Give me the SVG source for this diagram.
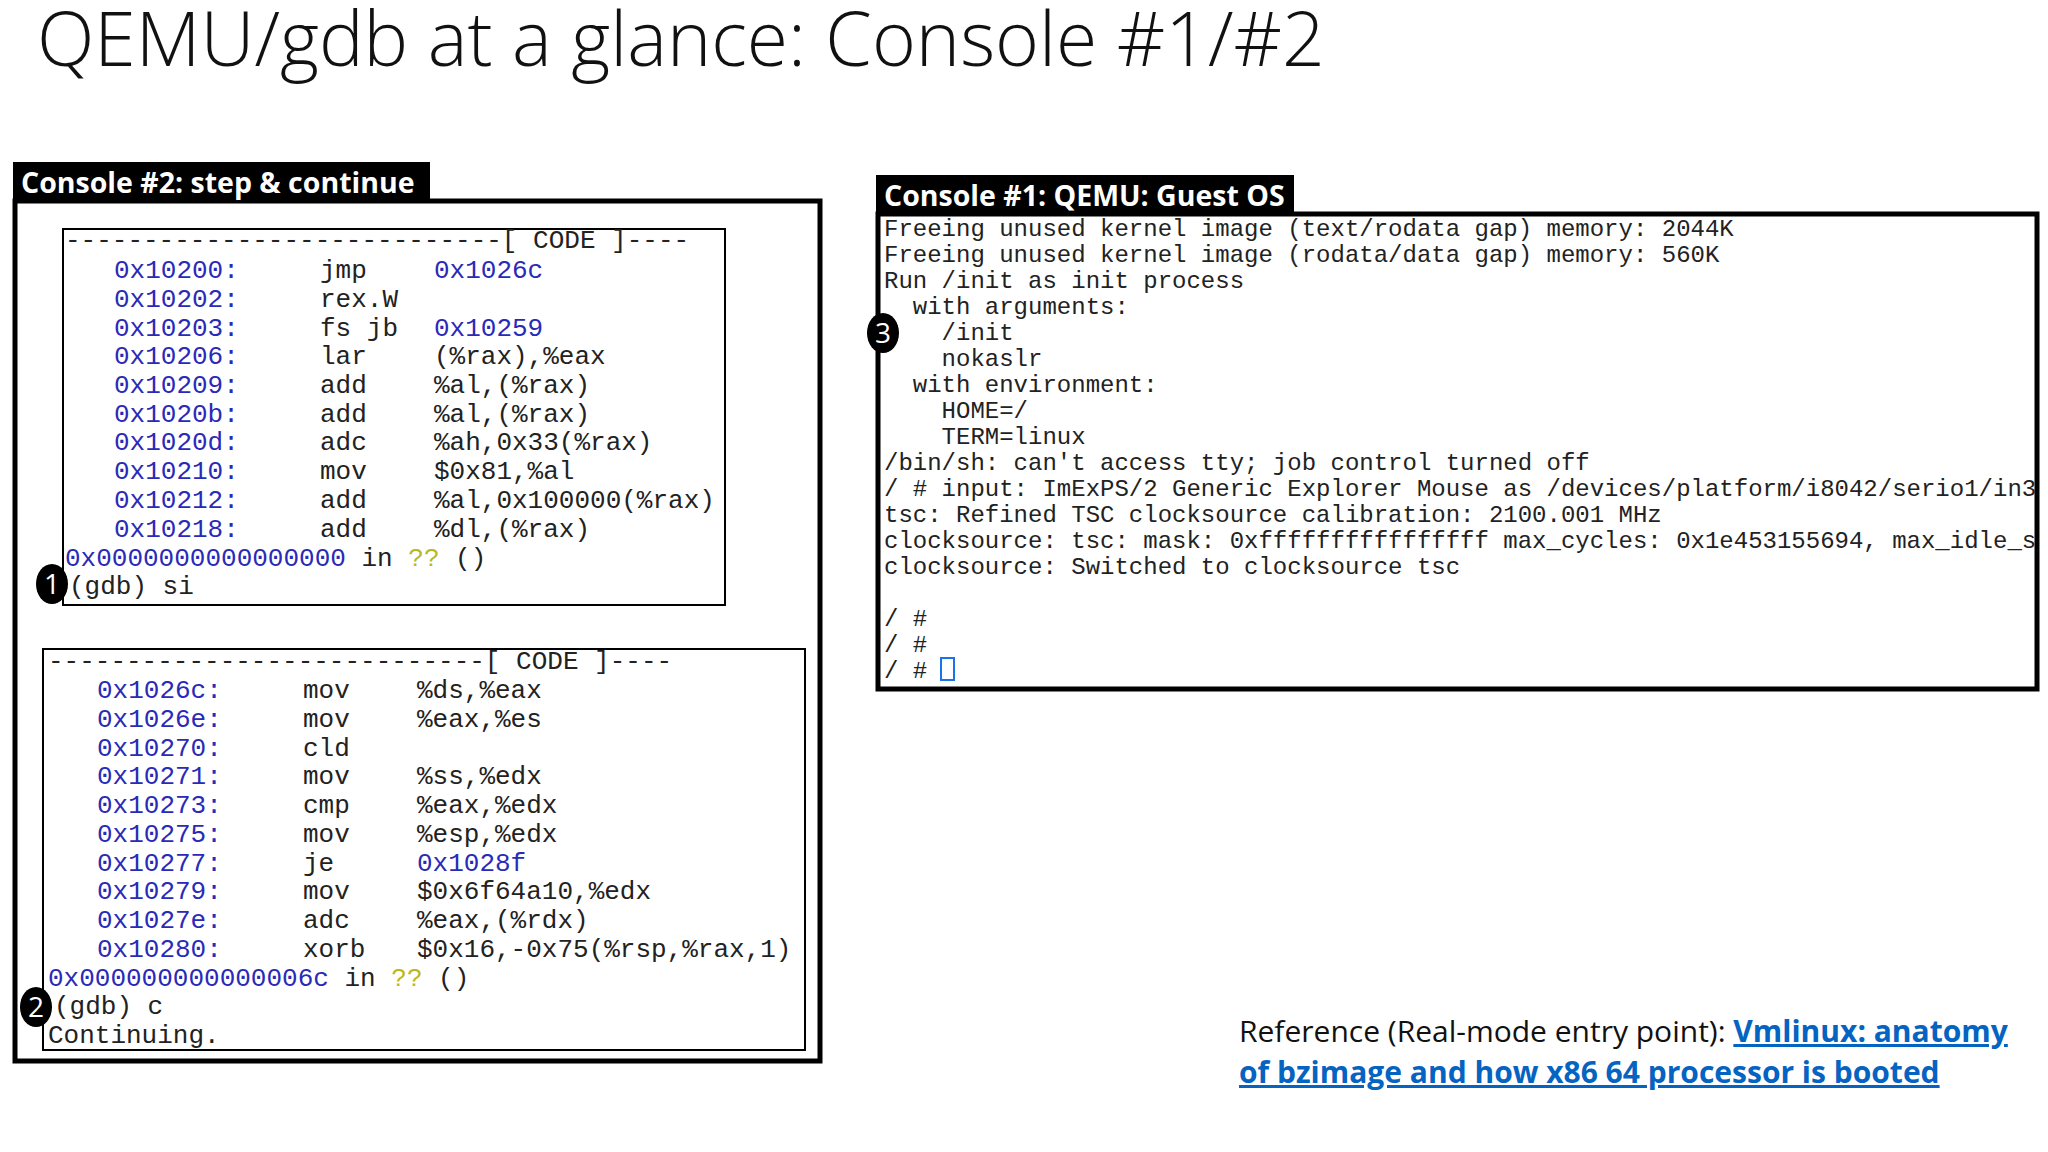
<svg xmlns="http://www.w3.org/2000/svg" width="2048" height="1152" viewBox="0 0 2048 1152">
<style>
.m{font-family:"Liberation Mono","Courier New",monospace;font-size:26px;fill:#222;white-space:pre}
.q{font-family:"Liberation Mono","Courier New",monospace;font-size:24px;fill:#222;white-space:pre}
.a{fill:#2a2ab8}
.y{fill:#b8b820}
.bar{font-family:"Open Sans","Noto Sans",sans-serif;font-weight:700;font-size:28.5px;fill:#fff}
.badge{font-family:"Open Sans","Liberation Sans",sans-serif;font-size:28px;fill:#fff;text-anchor:middle}
.ref{font-family:"Open Sans","Liberation Sans",sans-serif;font-size:30px;fill:#111}
.lnk{fill:#0563c1;font-weight:700;text-decoration:underline}
</style>
<rect width="2048" height="1152" fill="#fff"/>
<text x="37" y="66" font-family="'Open Sans','Noto Sans',sans-serif" font-weight="300" font-size="75" fill="#111">QEMU/gdb at a glance: Console #1/#2</text>

<g id="console2">
<rect x="15" y="201" width="805" height="860" fill="none" stroke="#000" stroke-width="5"/>
<rect x="13" y="162" width="417" height="40" fill="#000"/>
<text class="bar" x="21" y="193">Console #2: step &amp; continue</text>
</g>

<g id="code1">
<rect x="63" y="229" width="662" height="376" fill="none" stroke="#000" stroke-width="2"/>
<text class="m" x="65" y="248">----------------------------[ CODE ]----</text>
<text x="114" y="278" class="m a">0x10200:</text><text x="320" y="278" class="m">jmp</text><text x="434" y="278" class="m a">0x1026c</text>
<text x="114" y="307" class="m a">0x10202:</text><text x="320" y="307" class="m">rex.W</text>
<text x="114" y="336" class="m a">0x10203:</text><text x="320" y="336" class="m">fs jb</text><text x="434" y="336" class="m a">0x10259</text>
<text x="114" y="364" class="m a">0x10206:</text><text x="320" y="364" class="m">lar</text><text x="434" y="364" class="m">(%rax),%eax</text>
<text x="114" y="393" class="m a">0x10209:</text><text x="320" y="393" class="m">add</text><text x="434" y="393" class="m">%al,(%rax)</text>
<text x="114" y="422" class="m a">0x1020b:</text><text x="320" y="422" class="m">add</text><text x="434" y="422" class="m">%al,(%rax)</text>
<text x="114" y="450" class="m a">0x1020d:</text><text x="320" y="450" class="m">adc</text><text x="434" y="450" class="m">%ah,0x33(%rax)</text>
<text x="114" y="479" class="m a">0x10210:</text><text x="320" y="479" class="m">mov</text><text x="434" y="479" class="m">$0x81,%al</text>
<text x="114" y="508" class="m a">0x10212:</text><text x="320" y="508" class="m">add</text><text x="434" y="508" class="m">%al,0x100000(%rax)</text>
<text x="114" y="537" class="m a">0x10218:</text><text x="320" y="537" class="m">add</text><text x="434" y="537" class="m">%dl,(%rax)</text>
<text class="m" x="65" y="566"><tspan class="a">0x0000000000000000</tspan> in <tspan class="y">??</tspan> ()</text>
<text class="m" x="69" y="594">(gdb) si</text>
</g>

<g id="code2">
<rect x="43" y="649" width="762" height="401" fill="none" stroke="#000" stroke-width="2"/>
<text class="m" x="48" y="669">----------------------------[ CODE ]----</text>
<text x="97" y="698" class="m a">0x1026c:</text><text x="303" y="698" class="m">mov</text><text x="417" y="698" class="m">%ds,%eax</text>
<text x="97" y="727" class="m a">0x1026e:</text><text x="303" y="727" class="m">mov</text><text x="417" y="727" class="m">%eax,%es</text>
<text x="97" y="756" class="m a">0x10270:</text><text x="303" y="756" class="m">cld</text>
<text x="97" y="784" class="m a">0x10271:</text><text x="303" y="784" class="m">mov</text><text x="417" y="784" class="m">%ss,%edx</text>
<text x="97" y="813" class="m a">0x10273:</text><text x="303" y="813" class="m">cmp</text><text x="417" y="813" class="m">%eax,%edx</text>
<text x="97" y="842" class="m a">0x10275:</text><text x="303" y="842" class="m">mov</text><text x="417" y="842" class="m">%esp,%edx</text>
<text x="97" y="871" class="m a">0x10277:</text><text x="303" y="871" class="m">je</text><text x="417" y="871" class="m a">0x1028f</text>
<text x="97" y="899" class="m a">0x10279:</text><text x="303" y="899" class="m">mov</text><text x="417" y="899" class="m">$0x6f64a10,%edx</text>
<text x="97" y="928" class="m a">0x1027e:</text><text x="303" y="928" class="m">adc</text><text x="417" y="928" class="m">%eax,(%rdx)</text>
<text x="97" y="957" class="m a">0x10280:</text><text x="303" y="957" class="m">xorb</text><text x="417" y="957" class="m">$0x16,-0x75(%rsp,%rax,1)</text>
<text class="m" x="48" y="986"><tspan class="a">0x000000000000006c</tspan> in <tspan class="y">??</tspan> ()</text>
<text class="m" x="54" y="1014">(gdb) c</text>
<text class="m" x="48" y="1043">Continuing.</text>
</g>

<g id="console1">
<rect x="878" y="214" width="1159" height="475" fill="none" stroke="#000" stroke-width="5"/>
<rect x="876" y="175" width="418" height="40" fill="#000"/>
<text class="bar" x="884" y="206">Console #1: QEMU: Guest OS</text>
<text class="q" x="884" y="236">Freeing unused kernel image (text/rodata gap) memory: 2044K</text>
<text class="q" x="884" y="262">Freeing unused kernel image (rodata/data gap) memory: 560K</text>
<text class="q" x="884" y="288">Run /init as init process</text>
<text class="q" x="884" y="314">  with arguments:</text>
<text class="q" x="884" y="340">    /init</text>
<text class="q" x="884" y="366">    nokaslr</text>
<text class="q" x="884" y="392">  with environment:</text>
<text class="q" x="884" y="418">    HOME=/</text>
<text class="q" x="884" y="444">    TERM=linux</text>
<text class="q" x="884" y="470">/bin/sh: can't access tty; job control turned off</text>
<text class="q" x="884" y="496">/ # input: ImExPS/2 Generic Explorer Mouse as /devices/platform/i8042/serio1/in3</text>
<text class="q" x="884" y="522">tsc: Refined TSC clocksource calibration: 2100.001 MHz</text>
<text class="q" x="884" y="548">clocksource: tsc: mask: 0xffffffffffffffff max_cycles: 0x1e453155694, max_idle_s</text>
<text class="q" x="884" y="574">clocksource: Switched to clocksource tsc</text>
<text class="q" x="884" y="626">/ #</text>
<text class="q" x="884" y="652">/ #</text>
<text class="q" x="884" y="678">/ #</text>
<rect x="941" y="658" width="13" height="22" fill="none" stroke="#1a73e8" stroke-width="2"/>
</g>

<g id="badges">
<g id="b1"><ellipse cx="52" cy="584" rx="16" ry="20" fill="#000"/><text class="badge" x="52" y="594">1</text></g>
<g id="b2"><ellipse cx="36" cy="1007" rx="16" ry="20" fill="#000"/><text class="badge" x="36" y="1017">2</text></g>
<g id="b3"><ellipse cx="883" cy="333" rx="16" ry="20" fill="#000"/><text class="badge" x="883" y="343">3</text></g>
</g>

<g id="reference">
<text class="ref" x="1239" y="1042">Reference (Real-mode entry point): <tspan class="lnk">Vmlinux: anatomy</tspan></text>
<text class="ref lnk" x="1239" y="1083">of bzimage and how x86 64 processor is booted</text>
</g>
</svg>
